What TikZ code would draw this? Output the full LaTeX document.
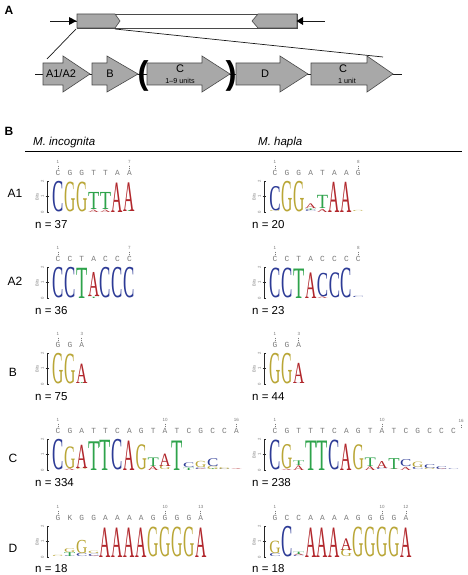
\documentclass[tikz,border=0pt]{standalone}
\usepackage{fontspec}
\setmainfont{Liberation Sans}
\newfontfamily\logofont{Liberation Serif}
\newfontfamily\consfont{Liberation Mono}
\usepackage{graphicx}
\definecolor{lA}{HTML}{B1262B}
\definecolor{lC}{HTML}{2D3B96}
\definecolor{lG}{HTML}{B9A636}
\definecolor{lT}{HTML}{2EA34B}
\definecolor{lK}{HTML}{777777}
\definecolor{gfill}{HTML}{A8A8A8}
\definecolor{gline}{HTML}{4A4A4A}
\definecolor{cgray}{HTML}{7A7A7A}
\newcounter{lgc}
\def\PB{15.5}\def\LW{11.9}\def\LX{52}\def\LB{212}
\newcommand\setlogo[2]{\gdef\LX{#1}\gdef\LB{#2}}
\newcommand\lcol[2]{%
  \gdef\acc{0}%
  \foreach \lett/\hgt in {#2}{%
    \pgfmathsetmacro\xx{\LX+(#1-1)*\LW+0.3}%
    \pgfmathsetmacro\yy{\LB-\acc*\PB}%
    \pgfmathsetmacro\hh{\hgt*\PB}%
    \stepcounter{lgc}%
    \node[logoletter, text=l\lett] (lg\number\value{lgc}) at (\xx,\yy) {\resizebox{11.3pt}{\hh pt}{\logofont\lett}};%
    \pgfmathsetmacro\na{\acc+\hgt}\xdef\acc{\na}%
  }}
\newcommand\cons[1]{\stepcounter{lgc}%
  \foreach \cl [count=\ci] in {#1}{\node[consl] (cs\number\value{lgc}x\ci) at ({\LX+(\ci-0.5)*\LW},{\LB-39}) {\cl};}}
\newcommand\nums[1]{\stepcounter{lgc}%
  \foreach \p in {#1}{\node[numl] (nm\number\value{lgc}x\p) at ({\LX+(\p-0.5)*\LW},{\LB-50}) {\p};
   \draw[numtick] ({\LX+(\p-0.5)*\LW},{\LB-46.5}) -- ({\LX+(\p-0.5)*\LW},{\LB-42.5});}}
\newcommand\bitsaxis[2]{\stepcounter{lgc}%
  \draw[axisl] ({#1+1.8},\LB) -- (#1,\LB) -- ({#1},{\LB-31}) -- ({#1+1.8},{\LB-31});
  \draw[axisl] ({#1-1.5},{\LB-15.5}) -- ({#1+1.5},{\LB-15.5});
  \node[axnum] (ax\number\value{lgc}a) at ({#1-4.5},\LB) {0};
  \node[axnum] (ax\number\value{lgc}b) at ({#1-4.5},{\LB-15.5}) {1};
  \node[axnum] (ax\number\value{lgc}c) at ({#1-4.5},{\LB-31}) {2};
  \ifnum#2=1 \node[axnum] (ax\number\value{lgc}d) at ({#1-10},{\LB-15.5}) {Bits};\fi}
\begin{document}
\begin{tikzpicture}[x=1pt,y=-1pt,
  logoletter/.style={anchor=south west, inner sep=0pt, outer sep=0pt},
  consl/.style={inner sep=0pt, text=cgray, font=\consfont\fontsize{7.8}{8}\selectfont},
  numl/.style={inner sep=0pt, text=cgray, font=\fontsize{4.5}{5}\selectfont},
  numtick/.style={draw=cgray, line width=0.6pt, dash pattern=on 1.2pt off 0.8pt},
  axisl/.style={draw=black!85, line width=1pt},
  axnum/.style={inner sep=0pt, rotate=90, text=cgray, font=\fontsize{4.2}{5}\selectfont},
  gshape/.style={draw=gline, fill=gfill, line width=0.6pt},
  thinl/.style={draw=black!90, line width=0.7pt},
  nlab/.style={anchor=west, inner sep=0pt, font=\fontsize{11.5}{12}\selectfont},
  rowlab/.style={inner sep=0pt, font=\fontsize{12}{13}\selectfont},
  panel/.style={inner sep=0pt, font=\bfseries\fontsize{12}{13}\selectfont},
  species/.style={anchor=west, inner sep=0pt, font=\itshape\fontsize{11.5}{13}\selectfont},
  arrlab/.style={inner sep=0pt, font=\fontsize{11}{12}\selectfont},
  arrsub/.style={inner sep=0pt, font=\fontsize{7.2}{8}\selectfont}]
\path[use as bounding box, fill=white] (0,0) rectangle (468,575);

% ---------- Panel A ----------
\node[panel] (pa) at (9,10) {A};
\coordinate (tl) at (50,21);
\coordinate (tr) at (325,21);
\draw[thinl] (tl) -- (tr);
\draw[draw=gline, fill=white, line width=0.6pt] (77,14) rectangle (297,28);
\draw[gshape] (77,14) -- (115,14) -- (120,21) -- (115,28) -- (77,28) -- cycle;
\draw[gshape] (297,14) -- (258,14) -- (252,21) -- (258,28) -- (297,28) -- cycle;
\fill[black] (69,17) -- (76.5,21) -- (69,25) -- cycle;
\fill[black] (303,17) -- (296.5,21) -- (303,25) -- cycle;
\coordinate (z1a) at (76,29);
\coordinate (z1b) at (47,59);
\coordinate (z2a) at (115,29);
\coordinate (z2b) at (383,57);
\draw[thinl] (z1a) -- (z1b);
\draw[thinl] (z2a) -- (z2b);
\coordinate (bl) at (35,74);
\coordinate (br) at (402,74);
\draw[thinl] (bl) -- (br);
\newcommand\garrow[3]{\draw[gshape] (#1,63) -- (#2,63) -- (#2,56) -- (#3,74) -- (#2,92) -- (#2,85) -- (#1,85) -- cycle;}
\garrow{43}{63}{90}
\garrow{92}{107}{138}
\garrow{147}{202}{230}
\garrow{236}{280}{308}
\garrow{311}{367}{393}
\node[arrlab] (ta) at (61,74) {A1/A2};
\node[arrlab] (tb) at (110,74) {B};
\node[arrlab] (tc) at (180,69) {C};
\node[arrsub] (tcs) at (180,81) {1–9 units};
\node[arrlab] (td) at (265,74) {D};
\node[arrlab] (tc2) at (343,69) {C};
\node[arrsub] (tc2s) at (347,81) {1 unit};
\node[inner sep=0pt, font=\bfseries\fontsize{33}{33}\selectfont] (pl) at (143,76) {(};
\node[inner sep=0pt, font=\bfseries\fontsize{33}{33}\selectfont] (pr) at (231,76) {)};

% ---------- Panel B ----------
\node[panel] (pb) at (9,131) {B};
\node[species] (sp1) at (33,143) {M. incognita};
\node[species] (sp2) at (258,143) {M. hapla};
\coordinate (hl) at (25,151);
\coordinate (hr) at (462,151);
\draw[draw=black, line width=0.8pt] (hl) -- (hr);

\node[rowlab] (r1) at (15,193) {A1};
\node[rowlab] (r2) at (15,281) {A2};
\node[rowlab] (r3) at (13,372) {B};
\node[rowlab] (r4) at (13,458) {C};
\node[rowlab] (r5) at (13,548) {D};

% A1 left
\setlogo{52}{212}
\bitsaxis{47}{1}
\cons{C,G,G,T,T,A,A}
\nums{1,7}
\lcol{1}{C/1.95}
\lcol{2}{G/1.9}
\lcol{3}{G/1.9}
\lcol{4}{A/0.15,T/1.1}
\lcol{5}{A/0.15,T/1.1}
\lcol{6}{A/1.9}
\lcol{7}{T/0.06,A/1.85}
\node[nlab] (n1) at (35,225) {n = 37};
% A1 right
\setlogo{269}{212}
\bitsaxis{264}{1}
\cons{C,G,G,A,T,A,A,G}
\nums{1,8}
\lcol{1}{G/0.06,C/1.55}
\lcol{2}{G/1.95}
\lcol{3}{G/1.95}
\lcol{4}{C/0.12,T/0.1,A/0.3}
\lcol{5}{A/0.2,T/0.85}
\lcol{6}{A/1.95}
\lcol{7}{A/1.95}
\lcol{8}{G/0.07}
\node[nlab] (n2) at (252,225) {n = 20};

% A2 left
\setlogo{52}{298}
\bitsaxis{47}{1}
\cons{C,C,T,A,C,C,C}
\nums{1,7}
\lcol{1}{C/1.95}
\lcol{2}{C/1.95}
\lcol{3}{T/1.95}
\lcol{4}{T/0.08,A/1.55}
\lcol{5}{C/1.95}
\lcol{6}{C/1.95}
\lcol{7}{C/1.95}
\node[nlab] (n3) at (35,311) {n = 36};
% A2 right
\setlogo{269}{298}
\bitsaxis{264}{1}
\cons{C,C,T,A,C,C,C,C}
\nums{1,8}
\lcol{1}{C/1.9}
\lcol{2}{C/1.9}
\lcol{3}{T/1.9}
\lcol{4}{A/1.65}
\lcol{5}{A/0.1,C/1.5}
\lcol{6}{C/1.6}
\lcol{7}{C/1.9}
\lcol{8}{C/0.08}
\node[nlab] (n4) at (252,311) {n = 23};

% B left
\setlogo{52}{384}
\bitsaxis{47}{1}
\cons{G,G,A}
\nums{1,3}
\lcol{1}{G/1.95}
\lcol{2}{G/1.9}
\lcol{3}{T/0.05,A/1.25}
\node[nlab] (n5) at (35,397) {n = 75};
% B right
\setlogo{269}{384}
\bitsaxis{264}{1}
\cons{G,G,A}
\nums{1,3}
\lcol{1}{G/1.95}
\lcol{2}{G/1.95}
\lcol{3}{C/0.06,A/1.3}
\node[nlab] (n6) at (252,397) {n = 44};

% C left
\setlogo{52}{470}
\bitsaxis{47}{0}
\cons{C,G,A,T,T,C,A,G,T,A,T,C,G,C,C,A}
\nums{1,10,16}
\lcol{1}{C/1.95}
\lcol{2}{A/0.1,G/1.4}
\lcol{3}{G/0.1,A/1.5}
\lcol{4}{T/1.85}
\lcol{5}{T/1.95}
\lcol{6}{C/1.95}
\lcol{7}{A/1.9}
\lcol{8}{G/1.6}
\lcol{9}{A/0.25,T/0.55}
\lcol{10}{G/0.25,A/0.8}
\lcol{11}{T/1.9}
\lcol{12}{T/0.15,C/0.3}
\lcol{13}{A/0.05,C/0.1,G/0.4}
\lcol{14}{T/0.05,G/0.2,C/0.5}
\lcol{15}{C/0.05,G/0.12}
\lcol{16}{A/0.06}
\node[nlab] (n7) at (35,483) {n = 334};
% C right
\setlogo{269}{470}
\bitsaxis{264}{1}
\cons{C,G,T,T,T,C,A,G,T,A,T,C,G,C,C,C}
\nums{1,10}
\node[numl] (nm16r) at (461,421) {16};
\draw[numtick] (461,424.5) -- (461,428);
\lcol{1}{C/1.9}
\lcol{2}{A/0.08,G/1.55}
\lcol{3}{A/0.3,T/0.3}
\lcol{4}{T/1.9}
\lcol{5}{T/1.9}
\lcol{6}{C/1.9}
\lcol{7}{A/1.7}
\lcol{8}{G/1.6}
\lcol{9}{A/0.25,T/0.55}
\lcol{10}{C/0.1,A/0.45}
\lcol{11}{A/0.05,T/0.7}
\lcol{12}{A/0.2,C/0.45}
\lcol{13}{C/0.15,G/0.35}
\lcol{14}{G/0.1,C/0.25}
\lcol{15}{A/0.05,C/0.18}
\lcol{16}{C/0.05}
\node[nlab] (n8) at (252,483) {n = 238};

% D left
\setlogo{52}{557}
\bitsaxis{47}{1}
\cons{G,K,G,G,A,A,A,A,G,G,G,G,A}
\nums{1,10,13}
\lcol{1}{G/0.08}
\lcol{2}{C/0.05,T/0.25,G/0.25}
\lcol{3}{C/0.2,G/0.85}
\lcol{4}{A/0.05,C/0.15,G/0.15}
\lcol{5}{A/1.9}
\lcol{6}{A/1.9}
\lcol{7}{A/1.9}
\lcol{8}{A/1.9}
\lcol{9}{G/1.9}
\lcol{10}{G/1.9}
\lcol{11}{G/1.9}
\lcol{12}{G/1.9}
\lcol{13}{A/1.9}
\node[nlab] (n9) at (35,569) {n = 18};
% D right
\setlogo{269}{557}
\bitsaxis{264}{1}
\cons{G,C,C,A,A,A,A,G,G,G,G,A}
\nums{1,10,12}
\lcol{1}{C/0.2,G/0.8}
\lcol{2}{C/1.95}
\lcol{3}{C/0.08,A/0.1,T/0.15}
\lcol{4}{A/1.9}
\lcol{5}{A/1.9}
\lcol{6}{A/1.9}
\lcol{7}{G/0.45,A/0.75}
\lcol{8}{G/1.9}
\lcol{9}{G/1.9}
\lcol{10}{G/1.9}
\lcol{11}{G/1.9}
\lcol{12}{A/1.9}
\node[nlab] (n10) at (252,569) {n = 18};
\end{tikzpicture}
\end{document}
